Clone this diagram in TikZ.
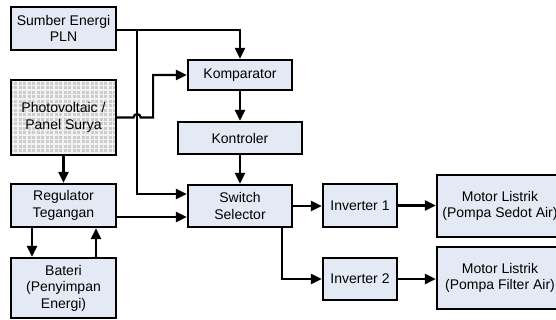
\documentclass[tikz,border=0pt]{standalone}
\usepackage{fontspec}
\setmainfont{Liberation Sans}
\usetikzlibrary{arrows.meta}
\definecolor{boxfill}{RGB}{228,234,245}
\definecolor{pvfill}{RGB}{205,205,205}
\begin{document}
\begin{tikzpicture}[x=1pt,y=-1pt,
  blk/.style={draw=black,line width=2.2pt,fill=boxfill,align=center,inner sep=0pt,
    font=\fontsize{14}{16.5}\selectfont},
  arr/.style={line width=2.2pt,-{Triangle[length=11pt,width=10pt]}}]
\useasboundingbox (0,0) rectangle (556,320);
\clip (0,0) rectangle (556,320);
\fill[white] (0,0) rectangle (556,320);
\node[blk,minimum width=105pt,minimum height=43pt] (pln) at (63.5,28.5) {Sumber Energi\\PLN};
\node[blk,minimum width=105pt,minimum height=75pt,fill=pvfill] (pv) at (63.5,117.5) {};
\begin{scope}
\clip (11,80) rectangle (116,155);
\draw[white!90!gray,line width=1.3pt] (11,80) grid[step=4.5pt] (116,155);
\end{scope}
\node[draw=black,line width=2.2pt,minimum width=105pt,minimum height=75pt,align=center,inner sep=0pt,font=\fontsize{14}{16.5}\selectfont] (pvt) at (63.5,117.5) {Photovoltaic /\\Panel Surya};
\node[blk,minimum width=105pt,minimum height=43pt] (reg) at (63.5,205.5) {Regulator\\Tegangan};
\node[blk,minimum width=105pt,minimum height=60pt] (bat) at (63.5,288) {Bateri\\(Penyimpan\\Energi)};
\node[blk,minimum width=104pt,minimum height=30pt] (kom) at (240,75) {Komparator};
\node[blk,minimum width=124pt,minimum height=32pt] (kon) at (240,138) {Kontroler};
\node[blk,minimum width=104pt,minimum height=42pt] (sw) at (240,206) {Switch\\Selector};
\node[blk,minimum width=74pt,minimum height=43pt] (inv1) at (360,205.5) {Inverter 1};
\node[blk,minimum width=74pt,minimum height=42pt] (inv2) at (360,279) {Inverter 2};
\node[blk,minimum width=126pt,minimum height=62pt] (m1) at (500,206) {Motor Listrik\\(Pompa Sedot Air)};
\node[blk,minimum width=126pt,minimum height=62pt] (m2) at (500,278) {Motor Listrik\\(Pompa Filter Air)};
% connectors
\draw[arr] ([yshift=-1.5pt]pln.east) -| (kom.north);
\draw[arr] ([yshift=-1.5pt,xshift=20pt]pln.east) |- ([yshift=12pt]sw.west);
\draw[arr] (pvt.east) -- ++(16.5,0) arc[start angle=180,end angle=0,radius=3.5pt] -- ++(12.5,0) |- (kom.west);
\draw[arr] (pvt.south) -- (reg.north);
\draw[arr] (kom.south) -- (kon.north);
\draw[arr] (kon.south) -- (sw.north);
\draw[arr] ([yshift=-11.5pt]reg.east) -- ([yshift=-11pt]sw.west);
\draw[arr] ([xshift=-31.5pt]reg.south) -- ([xshift=-31.5pt]bat.north);
\draw[arr] ([xshift=32.5pt]bat.north) -- ([xshift=32.5pt]reg.south);
\draw[arr] (sw.east) -- (sw.east -| inv1.west);
\draw[arr] ([xshift=42pt]sw.south) |- (inv2.west);
\draw[arr] (inv1.east) -- (inv1.east -| m1.west);
\draw[arr] (inv2.east) -- (inv2.east -| m2.west);
\end{tikzpicture}
\end{document}
